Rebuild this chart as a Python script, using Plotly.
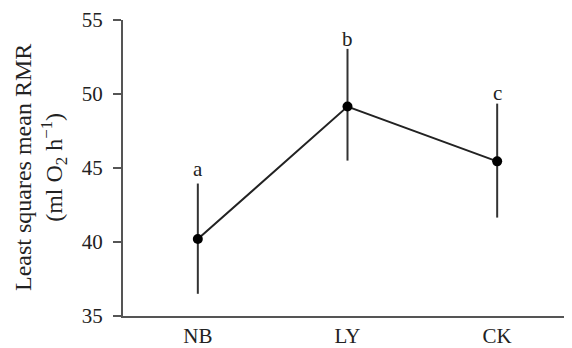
import plotly.graph_objects as go

groups = ["NB", "LY", "CK"]
mean_rmr = [40.2, 49.15, 45.45]
ci_upper = [43.95, 53.05, 49.35]
ci_lower = [36.5, 45.5, 41.65]
letters = ["a", "b", "c"]
letter_y = [44.9, 53.75, 50.1]

font_family = "Liberation Serif, Times New Roman, serif"
ink = "#222222"

fig = go.Figure()

fig.add_trace(
    go.Scatter(
        x=groups, y=mean_rmr,
        mode="lines+markers",
        line=dict(color=ink, width=2),
        marker=dict(color="black", size=10),
        error_y=dict(
            type="data", symmetric=False,
            array=[u - m for u, m in zip(ci_upper, mean_rmr)],
            arrayminus=[m - l for m, l in zip(mean_rmr, ci_lower)],
            color="#333333", thickness=2, width=0,
        ),
        cliponaxis=False,
        showlegend=False,
    )
)

# significance letters above each bar
for g, t, ly in zip(groups, letters, letter_y):
    fig.add_annotation(x=g, y=ly, text=t, showarrow=False,
                       font=dict(size=21, color=ink, family=font_family))

# y title as a rotated annotation so it can sit where the original does
fig.add_annotation(
    xref="paper", yref="paper", x=0, y=0.5, xshift=-83,
    text="Least squares mean RMR<br>(ml O<sub>2</sub> h<sup>−1</sup>)",
    textangle=-90, showarrow=False, xanchor="center", yanchor="middle",
    font=dict(size=24, color=ink, family=font_family),
)

# page body has an 8px margin, so the figure is 8px smaller each way
fig.update_layout(
    width=564, height=340,
    margin=dict(l=115, r=0, t=11, b=30),
    paper_bgcolor="white", plot_bgcolor="white",
    font=dict(family=font_family, size=21, color=ink),
)
fig.update_xaxes(
    range=[-0.5, 2.5], showline=True, linecolor="#555555", linewidth=2,
    ticks="", showgrid=False, zeroline=False,
    tickfont=dict(size=21),
)
fig.update_yaxes(
    range=[35, 55], tickvals=[35, 40, 45, 50, 55],
    showline=True, linecolor="#555555", linewidth=2,
    ticks="outside", ticklen=8, tickwidth=2, tickcolor="#555555",
    ticklabelstandoff=6, ticklabeloverflow="allow",
    showgrid=False, zeroline=False, tickfont=dict(size=21),
)

fig.write_html("out.html")
